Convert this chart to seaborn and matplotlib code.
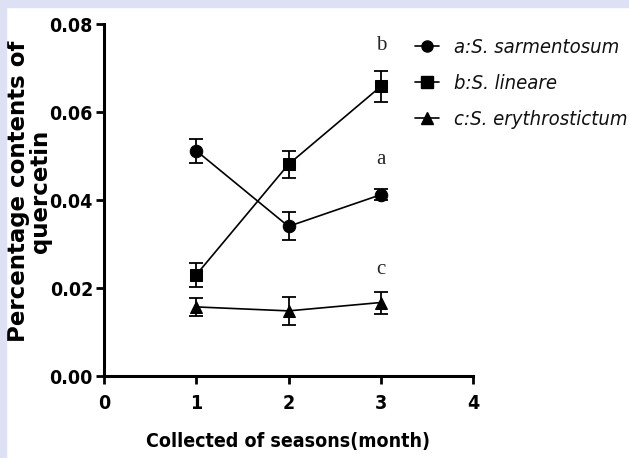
import matplotlib
matplotlib.use("Agg")
import matplotlib.pyplot as plt
from matplotlib.patches import Rectangle
from matplotlib.lines import Line2D
import seaborn as sns
import pandas as pd

# data
months = [1, 2, 3]
species = ["a:S. sarmentosum", "b:S. lineare", "c:S. erythrostictum"]
sarmentosum = [0.0512, 0.0340, 0.0412]
sarmentosum_err = [0.0027, 0.0032, 0.0013]
lineare = [0.0230, 0.0481, 0.0658]
lineare_err = [0.0027, 0.0031, 0.0035]
erythrostictum = [0.0157, 0.0148, 0.0167]
erythrostictum_err = [0.0020, 0.0031, 0.0025]
letters = ["a", "b", "c"]
letter_y = [0.0491, 0.0752, 0.0241]

markers = ["o", "s", "^"]

rows = []
for name, vals in zip(species, [sarmentosum, lineare, erythrostictum]):
    for m, v in zip(months, vals):
        rows.append({"month": m, "value": v, "species": name})
df = pd.DataFrame(rows)

sns.set_style("ticks")

fig = plt.figure(figsize=(6.29, 4.58), dpi=100)
fig.patches.append(Rectangle((0, 1 - 7 / 458), 1, 7 / 458, transform=fig.transFigure,
                             color="#dde1f3", zorder=0))
fig.patches.append(Rectangle((0, 0), 6 / 629, 1, transform=fig.transFigure,
                             color="#dde1f3", zorder=0))
ax = fig.add_axes([104 / 629, 1 - 376 / 458, (473 - 104) / 629, (376 - 24) / 458])

sns.lineplot(data=df, x="month", y="value", hue="species", style="species",
             markers=markers, dashes=False, palette=["black"] * 3,
             markersize=9, linewidth=1.2, markeredgecolor="black",
             legend=False, ax=ax, clip_on=False)

for vals, errs in zip([sarmentosum, lineare, erythrostictum],
                      [sarmentosum_err, lineare_err, erythrostictum_err]):
    ax.errorbar(months, vals, yerr=errs, fmt="none", ecolor="black",
                elinewidth=1.3, capsize=5, capthick=1.3)

for lab, y in zip(letters, letter_y):
    ax.text(3, y, lab, ha="center", va="center", fontsize=15,
            family="Liberation Serif")

ax.set_xlim(0, 4)
ax.set_ylim(0, 0.08)
ax.set_xticks([0, 1, 2, 3, 4])
ax.set_yticks([0, 0.02, 0.04, 0.06, 0.08])
ax.set_yticklabels(["0.00", "0.02", "0.04", "0.06", "0.08"])
sns.despine(ax=ax)
for s in ["left", "bottom"]:
    ax.spines[s].set_linewidth(2.2)
    ax.spines[s].set_color("black")
ax.tick_params(width=2, length=6, direction="out", colors="black")
ax.tick_params(axis="x", pad=7)
ax.tick_params(axis="y", pad=2)
for t in ax.get_xticklabels() + ax.get_yticklabels():
    t.set_family("DejaVu Sans")
    t.set_stretch("condensed")
    t.set_fontweight("bold")
    t.set_fontsize(14)

ax.set_xlabel("Collected of seasons(month)", family="DejaVu Sans", stretch="condensed",
              fontweight="bold", fontsize=14, labelpad=14, color="black")
ax.set_ylabel("Percentage contents of\nquercetin", family="DejaVu Sans", stretch="normal",
              fontweight="bold", fontsize=16.5, linespacing=0.95, color="black")
ax.yaxis.set_label_coords(-0.14, 0.525)

handles = [Line2D([], [], color="black", marker=mk, markersize=8, linewidth=1.2)
           for mk in markers]
leg = fig.legend(handles, species, loc="upper left", bbox_to_anchor=(397 / 629, 1 - 20 / 458),
                 frameon=False, handlelength=1.2, handletextpad=0.75, labelspacing=0.85,
                 prop={"family": "DejaVu Sans", "stretch": "condensed", "style": "italic",
                       "size": 14.5})
for txt in leg.get_texts():
    txt.set_color("#111111")

fig.savefig("out.png", dpi=100)
